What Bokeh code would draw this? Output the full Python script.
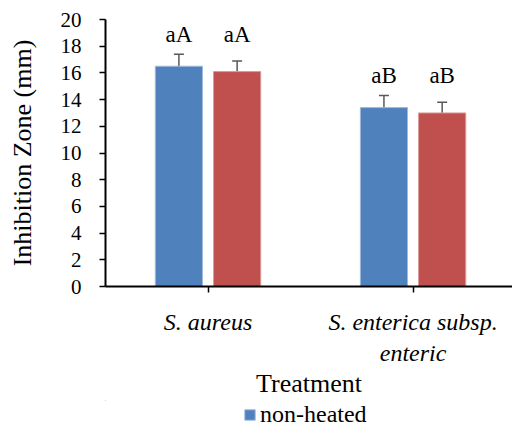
import numpy as np
from bokeh.plotting import figure
from bokeh.layouts import column
from bokeh.models import (ColumnDataSource, Range1d, FixedTicker, Whisker, TeeHead,
                          Legend, LegendItem)
from bokeh.core.properties import value
from bokeh.embed import file_html
from bokeh.resources import INLINE

categories = ["S. aureus", "S. enterica subsp.\nenteric"]
series = ["non-heated", "heated"]
non_heated = [16.5, 13.4]
heated = [16.1, 13.0]
non_heated_err = [0.9, 0.9]
heated_err = [0.8, 0.8]
letters_non_heated = ["aA", "aB"]
letters_heated = ["aA", "aB"]
y_ticks = list(range(0, 21, 2))

FONT = "Liberation Serif"
BLUE = "#4F81BD"
RED = "#C0504D"
BLUE_EDGE = "#9DB9DC"
RED_EDGE = "#DA9A98"

p = figure(frame_width=407, frame_height=267, output_backend="svg", toolbar_location=None,
           x_range=Range1d(0, 1.985), y_range=Range1d(0, 20),
           min_border_left=105, min_border_top=19, min_border_right=0,
           min_border_bottom=0)
p.outline_line_color = None
p.xgrid.visible = False
p.ygrid.visible = False
p.background_fill_color = "white"

centers = np.arange(len(categories)) + 0.5
offset = 0.142
bw = 0.23

group_top = [max(a + ea, b + eb) for a, ea, b, eb in zip(non_heated, non_heated_err, heated, heated_err)]

src_nh = ColumnDataSource(dict(
    x=centers - offset, top=non_heated,
    upper=np.array(non_heated) + np.array(non_heated_err),
    lower=np.array(non_heated) - np.array(non_heated_err),
    ly=group_top, txt=letters_non_heated))
src_h = ColumnDataSource(dict(
    x=centers + offset, top=heated,
    upper=np.array(heated) + np.array(heated_err),
    lower=np.array(heated) - np.array(heated_err),
    ly=group_top, txt=letters_heated))

r_nh = p.vbar(x="x", top="top", width=bw, source=src_nh, fill_color=BLUE,
              line_color=BLUE_EDGE, line_width=1)
r_h = p.vbar(x="x", top="top", width=bw, source=src_h, fill_color=RED,
             line_color=RED_EDGE, line_width=1)

for src in (src_nh, src_h):
    w = Whisker(source=src, base="x", upper="upper", lower="lower",
                line_color="#595959", line_width=1.5,
                upper_head=TeeHead(size=10, line_color="#595959", line_width=1.5),
                lower_head=TeeHead(size=10, line_color="#595959", line_width=1.5))
    p.add_layout(w)
    p.text(x="x", y="ly", text="txt", source=src, text_font=value(FONT),
           text_font_size="23px", text_align="center", text_baseline="alphabetic",
           y_offset=-20, text_color="black")

# axes
p.yaxis.ticker = FixedTicker(ticks=y_ticks)
p.yaxis.axis_label = "Inhibition Zone (mm)"
p.yaxis.axis_label_text_font = FONT
p.yaxis.axis_label_text_font_style = "normal"
p.yaxis.axis_label_text_font_size = "26px"
p.yaxis.axis_label_text_color = "black"
p.yaxis.major_label_text_font = FONT
p.yaxis.major_label_text_font_size = "21px"
p.yaxis.major_label_text_color = "black"
p.yaxis.major_tick_out = 6
p.yaxis.major_tick_in = 0
p.yaxis.minor_tick_out = 0
p.yaxis.minor_tick_in = 0
p.yaxis.axis_line_width = 2
p.yaxis.axis_line_color = "black"
p.yaxis.major_tick_line_color = "black"
p.yaxis.major_tick_line_width = 1.5
p.yaxis.major_label_standoff = 18
p.yaxis.axis_label_standoff = 21

p.xaxis.ticker = FixedTicker(ticks=list(centers))
p.xaxis.major_label_overrides = {float(c): lab for c, lab in zip(centers, categories)}
p.xaxis.axis_label = "Treatment"
p.xaxis.axis_label_text_font = FONT
p.xaxis.axis_label_text_font_style = "normal"
p.xaxis.axis_label_text_font_size = "26px"
p.xaxis.axis_label_text_color = "black"
p.xaxis.major_label_text_font = FONT
p.xaxis.major_label_text_font_style = "italic"
p.xaxis.major_label_text_font_size = "24px"
p.xaxis.major_label_text_color = "black"
p.xaxis.major_tick_out = 6
p.xaxis.major_tick_in = 0
p.xaxis.minor_tick_out = 0
p.xaxis.minor_tick_in = 0
p.xaxis.axis_line_width = 2
p.xaxis.axis_line_color = "black"
p.xaxis.major_tick_line_color = "black"
p.xaxis.major_tick_line_width = 1.5
p.xaxis.major_label_standoff = 16
p.xaxis.axis_label_standoff = 0

# legend strip below the chart (its frame is aligned with the chart's frame)
lg = figure(width=512, height=28, output_backend="svg", toolbar_location=None,
            x_range=Range1d(10, 11), y_range=Range1d(-2, -1),
            x_axis_location=None, y_axis_location=None,
            min_border=0)
lg.outline_line_color = None
lg.xgrid.visible = False
lg.ygrid.visible = False
# legend proxy: same series, lying outside the strip's visible ranges
r_leg = lg.vbar(x="x", top="top", width=bw, source=src_nh, fill_color=BLUE,
                line_color=BLUE_EDGE, line_width=1)
legend = Legend(items=[LegendItem(label=series[0], renderers=[r_leg])],
                location=(138, 0), orientation="horizontal",
                label_text_font=FONT, label_text_font_size="24px",
                label_text_color="black",
                glyph_width=13, glyph_height=13, label_standoff=4,
                border_line_color=None, background_fill_alpha=0,
                padding=0, margin=0, spacing=0)
lg.add_layout(legend, "center")

layout = column(p, lg, spacing=0)
open("out.html", "w").write(file_html(layout, INLINE))
